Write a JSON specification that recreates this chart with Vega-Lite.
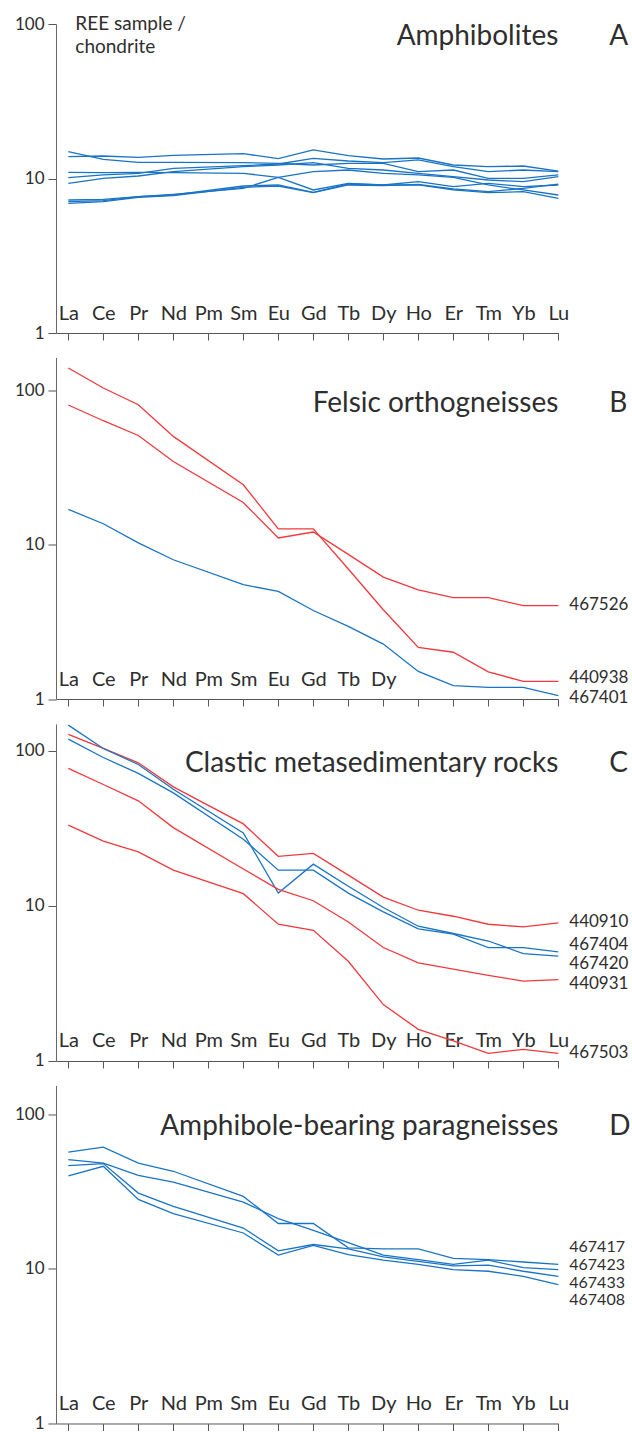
{
  "$schema": "https://vega.github.io/schema/vega-lite/v6.json",
  "background": "white",
  "padding": {"left": 14, "top": 15, "right": 0, "bottom": 0},
  "spacing": 24.5,
  "bounds": "flush",
  "config": {
    "font": "Lato",
    "view": {"stroke": null},
    "text": {"color": "#2e2e2e", "font": "Lato"},
    "axisX": {"title": null, "labelAngle": 0, "tickSize": 7, "labelPadding": -21, "labelBaseline": "alphabetic", "labelFontSize": 20, "labelColor": "#2e2e2e", "labelFont": "Lato", "tickColor": "#555555", "domainColor": "#555555", "grid": false, "labelOverlap": false, "labelFlush": false},
    "axisY": {"title": null, "tickSize": 8, "labelPadding": 4, "labelFontSize": 17, "labelColor": "#2e2e2e", "labelFont": "Lato", "tickColor": "#555555", "domainColor": "#666666", "grid": false, "labelOverlap": false}
  },
  "datasets": {
    "A": [
      {"sample":"A1","group":"1","element":"La","value":13.85},{"sample":"A1","group":"1","element":"Ce","value":13.98},{"sample":"A1","group":"1","element":"Pr","value":13.71},{"sample":"A1","group":"1","element":"Nd","value":14.13},{"sample":"A1","group":"1","element":"Sm","value":14.48},{"sample":"A1","group":"1","element":"Eu","value":13.44},{"sample":"A1","group":"1","element":"Gd","value":15.3},{"sample":"A1","group":"1","element":"Tb","value":14.05},{"sample":"A1","group":"1","element":"Dy","value":13.37},{"sample":"A1","group":"1","element":"Ho","value":13.57},{"sample":"A1","group":"1","element":"Er","value":12.23},{"sample":"A1","group":"1","element":"Tm","value":11.93},{"sample":"A1","group":"1","element":"Yb","value":12.05},{"sample":"A1","group":"1","element":"Lu","value":11.18},
      {"sample":"A2","group":"1","element":"La","value":14.92},{"sample":"A2","group":"1","element":"Ce","value":13.31},{"sample":"A2","group":"1","element":"Pr","value":12.72},{"sample":"A2","group":"1","element":"Nd","value":12.72},{"sample":"A2","group":"1","element":"Sm","value":12.66},{"sample":"A2","group":"1","element":"Eu","value":12.53},{"sample":"A2","group":"1","element":"Gd","value":12.23},{"sample":"A2","group":"1","element":"Tb","value":12.53},{"sample":"A2","group":"1","element":"Dy","value":12.53},{"sample":"A2","group":"1","element":"Ho","value":11.07},{"sample":"A2","group":"1","element":"Er","value":11.35},{"sample":"A2","group":"1","element":"Tm","value":10.03},{"sample":"A2","group":"1","element":"Yb","value":10.03},{"sample":"A2","group":"1","element":"Lu","value":10.54},
      {"sample":"A3","group":"1","element":"La","value":10.13},{"sample":"A3","group":"1","element":"Ce","value":10.54},{"sample":"A3","group":"1","element":"Pr","value":10.8},{"sample":"A3","group":"1","element":"Nd","value":11.64},{"sample":"A3","group":"1","element":"Sm","value":12.11},{"sample":"A3","group":"1","element":"Eu","value":12.41},{"sample":"A3","group":"1","element":"Gd","value":13.51},{"sample":"A3","group":"1","element":"Tb","value":12.98},{"sample":"A3","group":"1","element":"Dy","value":12.66},{"sample":"A3","group":"1","element":"Ho","value":13.18},{"sample":"A3","group":"1","element":"Er","value":11.93},{"sample":"A3","group":"1","element":"Tm","value":11.07},{"sample":"A3","group":"1","element":"Yb","value":11.35},{"sample":"A3","group":"1","element":"Lu","value":11.07},
      {"sample":"A4","group":"1","element":"La","value":9.31},{"sample":"A4","group":"1","element":"Ce","value":10.03},{"sample":"A4","group":"1","element":"Pr","value":10.38},{"sample":"A4","group":"1","element":"Nd","value":11.07},{"sample":"A4","group":"1","element":"Sm","value":11.93},{"sample":"A4","group":"1","element":"Eu","value":12.23},{"sample":"A4","group":"1","element":"Gd","value":12.66},{"sample":"A4","group":"1","element":"Tb","value":11.64},{"sample":"A4","group":"1","element":"Dy","value":11.35},{"sample":"A4","group":"1","element":"Ho","value":10.8},{"sample":"A4","group":"1","element":"Er","value":10.28},{"sample":"A4","group":"1","element":"Tm","value":9.78},{"sample":"A4","group":"1","element":"Yb","value":9.54},{"sample":"A4","group":"1","element":"Lu","value":10.28},
      {"sample":"A5","group":"1","element":"La","value":10.96},{"sample":"A5","group":"1","element":"Ce","value":10.91},{"sample":"A5","group":"1","element":"Pr","value":10.96},{"sample":"A5","group":"1","element":"Nd","value":10.91},{"sample":"A5","group":"1","element":"Sm","value":10.8},{"sample":"A5","group":"1","element":"Eu","value":10.18},{"sample":"A5","group":"1","element":"Gd","value":8.43},{"sample":"A5","group":"1","element":"Tb","value":9.31},{"sample":"A5","group":"1","element":"Dy","value":9.08},{"sample":"A5","group":"1","element":"Ho","value":9.08},{"sample":"A5","group":"1","element":"Er","value":8.43},{"sample":"A5","group":"1","element":"Tm","value":8.1},{"sample":"A5","group":"1","element":"Yb","value":8.22},{"sample":"A5","group":"1","element":"Lu","value":7.44},
      {"sample":"A6","group":"1","element":"La","value":7.26},{"sample":"A6","group":"1","element":"Ce","value":7.33},{"sample":"A6","group":"1","element":"Pr","value":7.63},{"sample":"A6","group":"1","element":"Nd","value":7.9},{"sample":"A6","group":"1","element":"Sm","value":8.64},{"sample":"A6","group":"1","element":"Eu","value":10.18},{"sample":"A6","group":"1","element":"Gd","value":11.07},{"sample":"A6","group":"1","element":"Tb","value":11.35},{"sample":"A6","group":"1","element":"Dy","value":10.8},{"sample":"A6","group":"1","element":"Ho","value":10.54},{"sample":"A6","group":"1","element":"Er","value":10.18},{"sample":"A6","group":"1","element":"Tm","value":9.08},{"sample":"A6","group":"1","element":"Yb","value":8.43},{"sample":"A6","group":"1","element":"Lu","value":7.82},
      {"sample":"A7","group":"1","element":"La","value":7.08},{"sample":"A7","group":"1","element":"Ce","value":7.19},{"sample":"A7","group":"1","element":"Pr","value":7.63},{"sample":"A7","group":"1","element":"Nd","value":7.82},{"sample":"A7","group":"1","element":"Sm","value":8.94},{"sample":"A7","group":"1","element":"Eu","value":9.08},{"sample":"A7","group":"1","element":"Gd","value":8.14},{"sample":"A7","group":"1","element":"Tb","value":9.21},{"sample":"A7","group":"1","element":"Dy","value":9.08},{"sample":"A7","group":"1","element":"Ho","value":9.54},{"sample":"A7","group":"1","element":"Er","value":8.85},{"sample":"A7","group":"1","element":"Tm","value":9.31},{"sample":"A7","group":"1","element":"Yb","value":8.85},{"sample":"A7","group":"1","element":"Lu","value":9.08},
      {"sample":"A8","group":"1","element":"La","value":6.91},{"sample":"A8","group":"1","element":"Ce","value":7.08},{"sample":"A8","group":"1","element":"Pr","value":7.55},{"sample":"A8","group":"1","element":"Nd","value":7.74},{"sample":"A8","group":"1","element":"Sm","value":8.77},{"sample":"A8","group":"1","element":"Eu","value":8.94},{"sample":"A8","group":"1","element":"Gd","value":8.1},{"sample":"A8","group":"1","element":"Tb","value":9.08},{"sample":"A8","group":"1","element":"Dy","value":8.99},{"sample":"A8","group":"1","element":"Ho","value":9.17},{"sample":"A8","group":"1","element":"Er","value":8.55},{"sample":"A8","group":"1","element":"Tm","value":8.22},{"sample":"A8","group":"1","element":"Yb","value":8.64},{"sample":"A8","group":"1","element":"Lu","value":9.21}
    ],
    "B": [
      {"sample":"440938","group":"2","element":"La","value":140.2},{"sample":"440938","group":"2","element":"Ce","value":104},{"sample":"440938","group":"2","element":"Pr","value":81},{"sample":"440938","group":"2","element":"Nd","value":50.5},{"sample":"440938","group":"2","element":"Sm","value":24.5},{"sample":"440938","group":"2","element":"Eu","value":12.7},{"sample":"440938","group":"2","element":"Gd","value":12.7},{"sample":"440938","group":"2","element":"Tb","value":6.97},{"sample":"440938","group":"2","element":"Dy","value":3.79},{"sample":"440938","group":"2","element":"Ho","value":2.16},{"sample":"440938","group":"2","element":"Er","value":2.01},{"sample":"440938","group":"2","element":"Tm","value":1.5},{"sample":"440938","group":"2","element":"Yb","value":1.3},{"sample":"440938","group":"2","element":"Lu","value":1.3},
      {"sample":"467526","group":"2","element":"La","value":80.7},{"sample":"467526","group":"2","element":"Ce","value":63.8},{"sample":"467526","group":"2","element":"Pr","value":51.2},{"sample":"467526","group":"2","element":"Nd","value":34.7},{"sample":"467526","group":"2","element":"Sm","value":18.8},{"sample":"467526","group":"2","element":"Eu","value":11.07},{"sample":"467526","group":"2","element":"Gd","value":12.1},{"sample":"467526","group":"2","element":"Tb","value":8.67},{"sample":"467526","group":"2","element":"Dy","value":6.18},{"sample":"467526","group":"2","element":"Ho","value":5.11},{"sample":"467526","group":"2","element":"Er","value":4.54},{"sample":"467526","group":"2","element":"Tm","value":4.54},{"sample":"467526","group":"2","element":"Yb","value":4.03},{"sample":"467526","group":"2","element":"Lu","value":4.03},
      {"sample":"467401","group":"1","element":"La","value":17.0},{"sample":"467401","group":"1","element":"Ce","value":13.7},{"sample":"467401","group":"1","element":"Pr","value":10.3},{"sample":"467401","group":"1","element":"Nd","value":8.0},{"sample":"467401","group":"1","element":"Sm","value":5.51},{"sample":"467401","group":"1","element":"Eu","value":4.99},{"sample":"467401","group":"1","element":"Gd","value":3.75},{"sample":"467401","group":"1","element":"Tb","value":2.96},{"sample":"467401","group":"1","element":"Dy","value":2.27},{"sample":"467401","group":"1","element":"Ho","value":1.51},{"sample":"467401","group":"1","element":"Er","value":1.22},{"sample":"467401","group":"1","element":"Tm","value":1.19},{"sample":"467401","group":"1","element":"Yb","value":1.19},{"sample":"467401","group":"1","element":"Lu","value":1.05}
    ],
    "C": [
      {"sample":"440910","group":"2","element":"La","value":127.6},{"sample":"440910","group":"2","element":"Ce","value":103.6},{"sample":"440910","group":"2","element":"Pr","value":83.7},{"sample":"440910","group":"2","element":"Nd","value":58.6},{"sample":"440910","group":"2","element":"Sm","value":33.8},{"sample":"440910","group":"2","element":"Eu","value":20.9},{"sample":"440910","group":"2","element":"Gd","value":21.8},{"sample":"440910","group":"2","element":"Tb","value":15.8},{"sample":"440910","group":"2","element":"Dy","value":11.4},{"sample":"440910","group":"2","element":"Ho","value":9.38},{"sample":"440910","group":"2","element":"Er","value":8.58},{"sample":"440910","group":"2","element":"Tm","value":7.62},{"sample":"440910","group":"2","element":"Yb","value":7.32},{"sample":"440910","group":"2","element":"Lu","value":7.77},
      {"sample":"467420","group":"1","element":"La","value":146.5},{"sample":"467420","group":"1","element":"Ce","value":103.6},{"sample":"467420","group":"1","element":"Pr","value":81.7},{"sample":"467420","group":"1","element":"Nd","value":56.6},{"sample":"467420","group":"1","element":"Sm","value":29.6},{"sample":"467420","group":"1","element":"Eu","value":12.1},{"sample":"467420","group":"1","element":"Gd","value":18.6},{"sample":"467420","group":"1","element":"Tb","value":13.4},{"sample":"467420","group":"1","element":"Dy","value":9.77},{"sample":"467420","group":"1","element":"Ho","value":7.4},{"sample":"467420","group":"1","element":"Er","value":6.64},{"sample":"467420","group":"1","element":"Tm","value":5.94},{"sample":"467420","group":"1","element":"Yb","value":4.93},{"sample":"467420","group":"1","element":"Lu","value":4.74},
      {"sample":"467404","group":"1","element":"La","value":119},{"sample":"467404","group":"1","element":"Ce","value":90.6},{"sample":"467404","group":"1","element":"Pr","value":71.5},{"sample":"467404","group":"1","element":"Nd","value":53.6},{"sample":"467404","group":"1","element":"Sm","value":26.9},{"sample":"467404","group":"1","element":"Eu","value":17.0},{"sample":"467404","group":"1","element":"Gd","value":17.0},{"sample":"467404","group":"1","element":"Tb","value":12.1},{"sample":"467404","group":"1","element":"Dy","value":9.15},{"sample":"467404","group":"1","element":"Ho","value":7.11},{"sample":"467404","group":"1","element":"Er","value":6.57},{"sample":"467404","group":"1","element":"Tm","value":5.39},{"sample":"467404","group":"1","element":"Yb","value":5.39},{"sample":"467404","group":"1","element":"Lu","value":5.05},
      {"sample":"440931","group":"2","element":"La","value":77},{"sample":"440931","group":"2","element":"Ce","value":60.7},{"sample":"440931","group":"2","element":"Pr","value":47.6},{"sample":"440931","group":"2","element":"Nd","value":32.0},{"sample":"440931","group":"2","element":"Sm","value":17.3},{"sample":"440931","group":"2","element":"Eu","value":12.8},{"sample":"440931","group":"2","element":"Gd","value":10.8},{"sample":"440931","group":"2","element":"Tb","value":7.88},{"sample":"440931","group":"2","element":"Dy","value":5.39},{"sample":"440931","group":"2","element":"Ho","value":4.29},{"sample":"440931","group":"2","element":"Er","value":3.91},{"sample":"440931","group":"2","element":"Tm","value":3.57},{"sample":"440931","group":"2","element":"Yb","value":3.27},{"sample":"440931","group":"2","element":"Lu","value":3.35},
      {"sample":"467503","group":"2","element":"La","value":33.2},{"sample":"467503","group":"2","element":"Ce","value":26.2},{"sample":"467503","group":"2","element":"Pr","value":22.3},{"sample":"467503","group":"2","element":"Nd","value":17.0},{"sample":"467503","group":"2","element":"Sm","value":12.0},{"sample":"467503","group":"2","element":"Eu","value":7.62},{"sample":"467503","group":"2","element":"Gd","value":6.97},{"sample":"467503","group":"2","element":"Tb","value":4.4},{"sample":"467503","group":"2","element":"Dy","value":2.31},{"sample":"467503","group":"2","element":"Ho","value":1.6},{"sample":"467503","group":"2","element":"Er","value":1.35},{"sample":"467503","group":"2","element":"Tm","value":1.12},{"sample":"467503","group":"2","element":"Yb","value":1.19},{"sample":"467503","group":"2","element":"Lu","value":1.12}
    ],
    "D": [
      {"sample":"467417","group":"1","element":"La","value":57.1},{"sample":"467417","group":"1","element":"Ce","value":61.5},{"sample":"467417","group":"1","element":"Pr","value":48.5},{"sample":"467417","group":"1","element":"Nd","value":42.9},{"sample":"467417","group":"1","element":"Sm","value":29.5},{"sample":"467417","group":"1","element":"Eu","value":19.7},{"sample":"467417","group":"1","element":"Gd","value":19.7},{"sample":"467417","group":"1","element":"Tb","value":13.7},{"sample":"467417","group":"1","element":"Dy","value":13.5},{"sample":"467417","group":"1","element":"Ho","value":13.5},{"sample":"467417","group":"1","element":"Er","value":11.7},{"sample":"467417","group":"1","element":"Tm","value":11.5},{"sample":"467417","group":"1","element":"Yb","value":11.1},{"sample":"467417","group":"1","element":"Lu","value":10.7},
      {"sample":"467423","group":"1","element":"La","value":51.0},{"sample":"467423","group":"1","element":"Ce","value":48.5},{"sample":"467423","group":"1","element":"Pr","value":40.4},{"sample":"467423","group":"1","element":"Nd","value":36.5},{"sample":"467423","group":"1","element":"Sm","value":27.1},{"sample":"467423","group":"1","element":"Eu","value":21.2},{"sample":"467423","group":"1","element":"Gd","value":17.8},{"sample":"467423","group":"1","element":"Tb","value":14.8},{"sample":"467423","group":"1","element":"Dy","value":12.3},{"sample":"467423","group":"1","element":"Ho","value":11.5},{"sample":"467423","group":"1","element":"Er","value":10.7},{"sample":"467423","group":"1","element":"Tm","value":11.4},{"sample":"467423","group":"1","element":"Yb","value":10.2},{"sample":"467423","group":"1","element":"Lu","value":9.91},
      {"sample":"467433","group":"1","element":"La","value":46.7},{"sample":"467433","group":"1","element":"Ce","value":48.1},{"sample":"467433","group":"1","element":"Pr","value":31.0},{"sample":"467433","group":"1","element":"Nd","value":25.4},{"sample":"467433","group":"1","element":"Sm","value":18.4},{"sample":"467433","group":"1","element":"Eu","value":13.1},{"sample":"467433","group":"1","element":"Gd","value":14.4},{"sample":"467433","group":"1","element":"Tb","value":13.5},{"sample":"467433","group":"1","element":"Dy","value":11.97},{"sample":"467433","group":"1","element":"Ho","value":11.2},{"sample":"467433","group":"1","element":"Er","value":10.46},{"sample":"467433","group":"1","element":"Tm","value":10.6},{"sample":"467433","group":"1","element":"Yb","value":9.67},{"sample":"467433","group":"1","element":"Lu","value":8.97},
      {"sample":"467408","group":"1","element":"La","value":40.0},{"sample":"467408","group":"1","element":"Ce","value":46.2},{"sample":"467408","group":"1","element":"Pr","value":28.2},{"sample":"467408","group":"1","element":"Nd","value":22.8},{"sample":"467408","group":"1","element":"Sm","value":17.1},{"sample":"467408","group":"1","element":"Eu","value":12.3},{"sample":"467408","group":"1","element":"Gd","value":14.2},{"sample":"467408","group":"1","element":"Tb","value":12.4},{"sample":"467408","group":"1","element":"Dy","value":11.4},{"sample":"467408","group":"1","element":"Ho","value":10.7},{"sample":"467408","group":"1","element":"Er","value":9.91},{"sample":"467408","group":"1","element":"Tm","value":9.67},{"sample":"467408","group":"1","element":"Yb","value":8.97},{"sample":"467408","group":"1","element":"Lu","value":7.93}
    ]
  },
  "vconcat": [
    {
      "width": 502.3, "height": 309,
      "layer": [
        {"data": {"name": "A"}, "mark": {"type": "line", "strokeWidth": 1.3},
         "encoding": {
           "x": {"field": "element", "type": "ordinal", "scale": {"type": "point", "domain": ["La","Ce","Pr","Nd","Pm","Sm","Eu","Gd","Tb","Dy","Ho","Er","Tm","Yb","Lu"], "padding": 0.176, "align": 1}},
           "y": {"field": "value", "type": "quantitative", "scale": {"type": "log", "domain": [1, 100], "nice": false}, "axis": {"values": [1, 10, 100], "format": "d"}},
           "detail": {"field": "sample", "type": "nominal"},
           "color": {"field": "group", "type": "nominal", "scale": {"domain": ["1", "2"], "range": ["#1a74c6", "#f2383c"]}, "legend": null}
         }},
        {"data": {"values": [{"title": "Amphibolites", "letter": "A"}]}, "mark": {"type": "text", "align": "right", "baseline": "alphabetic", "fontSize": 28},
         "encoding": {"x": {"datum": "Lu", "type": "ordinal"}, "y": {"datum": 73.1, "type": "quantitative"}, "text": {"field": "title"}}},
        {"data": {"values": [{"title": "Amphibolites", "letter": "A"}]}, "mark": {"type": "text", "align": "left", "baseline": "alphabetic", "fontSize": 28, "dx": 51},
         "encoding": {"x": {"datum": "Lu", "type": "ordinal"}, "y": {"datum": 73.1, "type": "quantitative"}, "text": {"field": "letter"}}},
        {"data": {"values": [{"line": "REE sample /", "at": 91.4}, {"line": "chondrite", "at": 64.6}]}, "mark": {"type": "text", "align": "left", "baseline": "alphabetic", "fontSize": 19, "dx": 7},
         "encoding": {"x": {"datum": "La", "type": "ordinal"}, "y": {"field": "at", "type": "quantitative"}, "text": {"field": "line"}}}
      ]
    },
    {
      "width": 502.3, "height": 341.5,
      "layer": [
        {"data": {"name": "B"}, "mark": {"type": "line", "strokeWidth": 1.3},
         "encoding": {
           "x": {"field": "element", "type": "ordinal", "scale": {"type": "point", "domain": ["La","Ce","Pr","Nd","Pm","Sm","Eu","Gd","Tb","Dy","Ho","Er","Tm","Yb","Lu"], "padding": 0.176, "align": 1}, "axis": {"labelExpr": "indexof(['Ho','Er','Tm','Yb','Lu'], datum.value) >= 0 ? '' : datum.label"}},
           "y": {"field": "value", "type": "quantitative", "scale": {"type": "log", "domain": [1, 164], "nice": false}, "axis": {"values": [1, 10, 100], "format": "d"}},
           "detail": {"field": "sample", "type": "nominal"},
           "color": {"field": "group", "type": "nominal", "scale": {"domain": ["1", "2"], "range": ["#1a74c6", "#f2383c"]}, "legend": null}
         }},
        {"data": {"values": [{"sample": "467526", "anchor": 4.05}, {"sample": "440938", "anchor": 1.37}, {"sample": "467401", "anchor": 1.02}]}, "mark": {"type": "text", "align": "left", "baseline": "middle", "fontSize": 17, "dx": 11},
         "encoding": {"x": {"datum": "Lu", "type": "ordinal"}, "y": {"field": "anchor", "type": "quantitative"}, "text": {"field": "sample"}}},
        {"data": {"values": [{"title": "Felsic orthogneisses", "letter": "B"}]}, "mark": {"type": "text", "align": "right", "baseline": "alphabetic", "fontSize": 28},
         "encoding": {"x": {"datum": "Lu", "type": "ordinal"}, "y": {"datum": 73.1, "type": "quantitative"}, "text": {"field": "title"}}},
        {"data": {"values": [{"title": "Felsic orthogneisses", "letter": "B"}]}, "mark": {"type": "text", "align": "left", "baseline": "alphabetic", "fontSize": 28, "dx": 51},
         "encoding": {"x": {"datum": "Lu", "type": "ordinal"}, "y": {"datum": 73.1, "type": "quantitative"}, "text": {"field": "letter"}}}
      ]
    },
    {
      "width": 502.3, "height": 337,
      "layer": [
        {"data": {"name": "C"}, "mark": {"type": "line", "strokeWidth": 1.3},
         "encoding": {
           "x": {"field": "element", "type": "ordinal", "scale": {"type": "point", "domain": ["La","Ce","Pr","Nd","Pm","Sm","Eu","Gd","Tb","Dy","Ho","Er","Tm","Yb","Lu"], "padding": 0.176, "align": 1}},
           "y": {"field": "value", "type": "quantitative", "scale": {"type": "log", "domain": [1, 149], "nice": false}, "axis": {"values": [1, 10, 100], "format": "d"}},
           "detail": {"field": "sample", "type": "nominal"},
           "color": {"field": "group", "type": "nominal", "scale": {"domain": ["1", "2"], "range": ["#1a74c6", "#f2383c"]}, "legend": null}
         }},
        {"data": {"values": [{"sample": "440910", "anchor": 7.88}, {"sample": "467404", "anchor": 5.62}, {"sample": "467420", "anchor": 4.2}, {"sample": "440931", "anchor": 3.12}, {"sample": "467503", "anchor": 1.13}]}, "mark": {"type": "text", "align": "left", "baseline": "middle", "fontSize": 17, "dx": 11},
         "encoding": {"x": {"datum": "Lu", "type": "ordinal"}, "y": {"field": "anchor", "type": "quantitative"}, "text": {"field": "sample"}}},
        {"data": {"values": [{"title": "Clastic metasedimentary rocks", "letter": "C"}]}, "mark": {"type": "text", "align": "right", "baseline": "alphabetic", "fontSize": 28},
         "encoding": {"x": {"datum": "Lu", "type": "ordinal"}, "y": {"datum": 73.1, "type": "quantitative"}, "text": {"field": "title"}}},
        {"data": {"values": [{"title": "Clastic metasedimentary rocks", "letter": "C"}]}, "mark": {"type": "text", "align": "left", "baseline": "alphabetic", "fontSize": 28, "dx": 51},
         "encoding": {"x": {"datum": "Lu", "type": "ordinal"}, "y": {"datum": 73.1, "type": "quantitative"}, "text": {"field": "letter"}}}
      ]
    },
    {
      "width": 502.3, "height": 338,
      "layer": [
        {"data": {"name": "D"}, "mark": {"type": "line", "strokeWidth": 1.3},
         "encoding": {
           "x": {"field": "element", "type": "ordinal", "scale": {"type": "point", "domain": ["La","Ce","Pr","Nd","Pm","Sm","Eu","Gd","Tb","Dy","Ho","Er","Tm","Yb","Lu"], "padding": 0.176, "align": 1}},
           "y": {"field": "value", "type": "quantitative", "scale": {"type": "log", "domain": [1, 154], "nice": false}, "axis": {"values": [1, 10, 100], "format": "d"}},
           "detail": {"field": "sample", "type": "nominal"},
           "color": {"field": "group", "type": "nominal", "scale": {"domain": ["1", "2"], "range": ["#1a74c6", "#f2383c"]}, "legend": null}
         }},
        {"data": {"values": [{"sample": "467417", "anchor": 13.8}, {"sample": "467423", "anchor": 10.6}, {"sample": "467433", "anchor": 8.15}, {"sample": "467408", "anchor": 6.3}]}, "mark": {"type": "text", "align": "left", "baseline": "middle", "fontSize": 16, "dx": 11},
         "encoding": {"x": {"datum": "Lu", "type": "ordinal"}, "y": {"field": "anchor", "type": "quantitative"}, "text": {"field": "sample"}}},
        {"data": {"values": [{"title": "Amphibole-bearing paragneisses", "letter": "D"}]}, "mark": {"type": "text", "align": "right", "baseline": "alphabetic", "fontSize": 28},
         "encoding": {"x": {"datum": "Lu", "type": "ordinal"}, "y": {"datum": 73.1, "type": "quantitative"}, "text": {"field": "title"}}},
        {"data": {"values": [{"title": "Amphibole-bearing paragneisses", "letter": "D"}]}, "mark": {"type": "text", "align": "left", "baseline": "alphabetic", "fontSize": 28, "dx": 51},
         "encoding": {"x": {"datum": "Lu", "type": "ordinal"}, "y": {"datum": 73.1, "type": "quantitative"}, "text": {"field": "letter"}}}
      ]
    }
  ]
}
